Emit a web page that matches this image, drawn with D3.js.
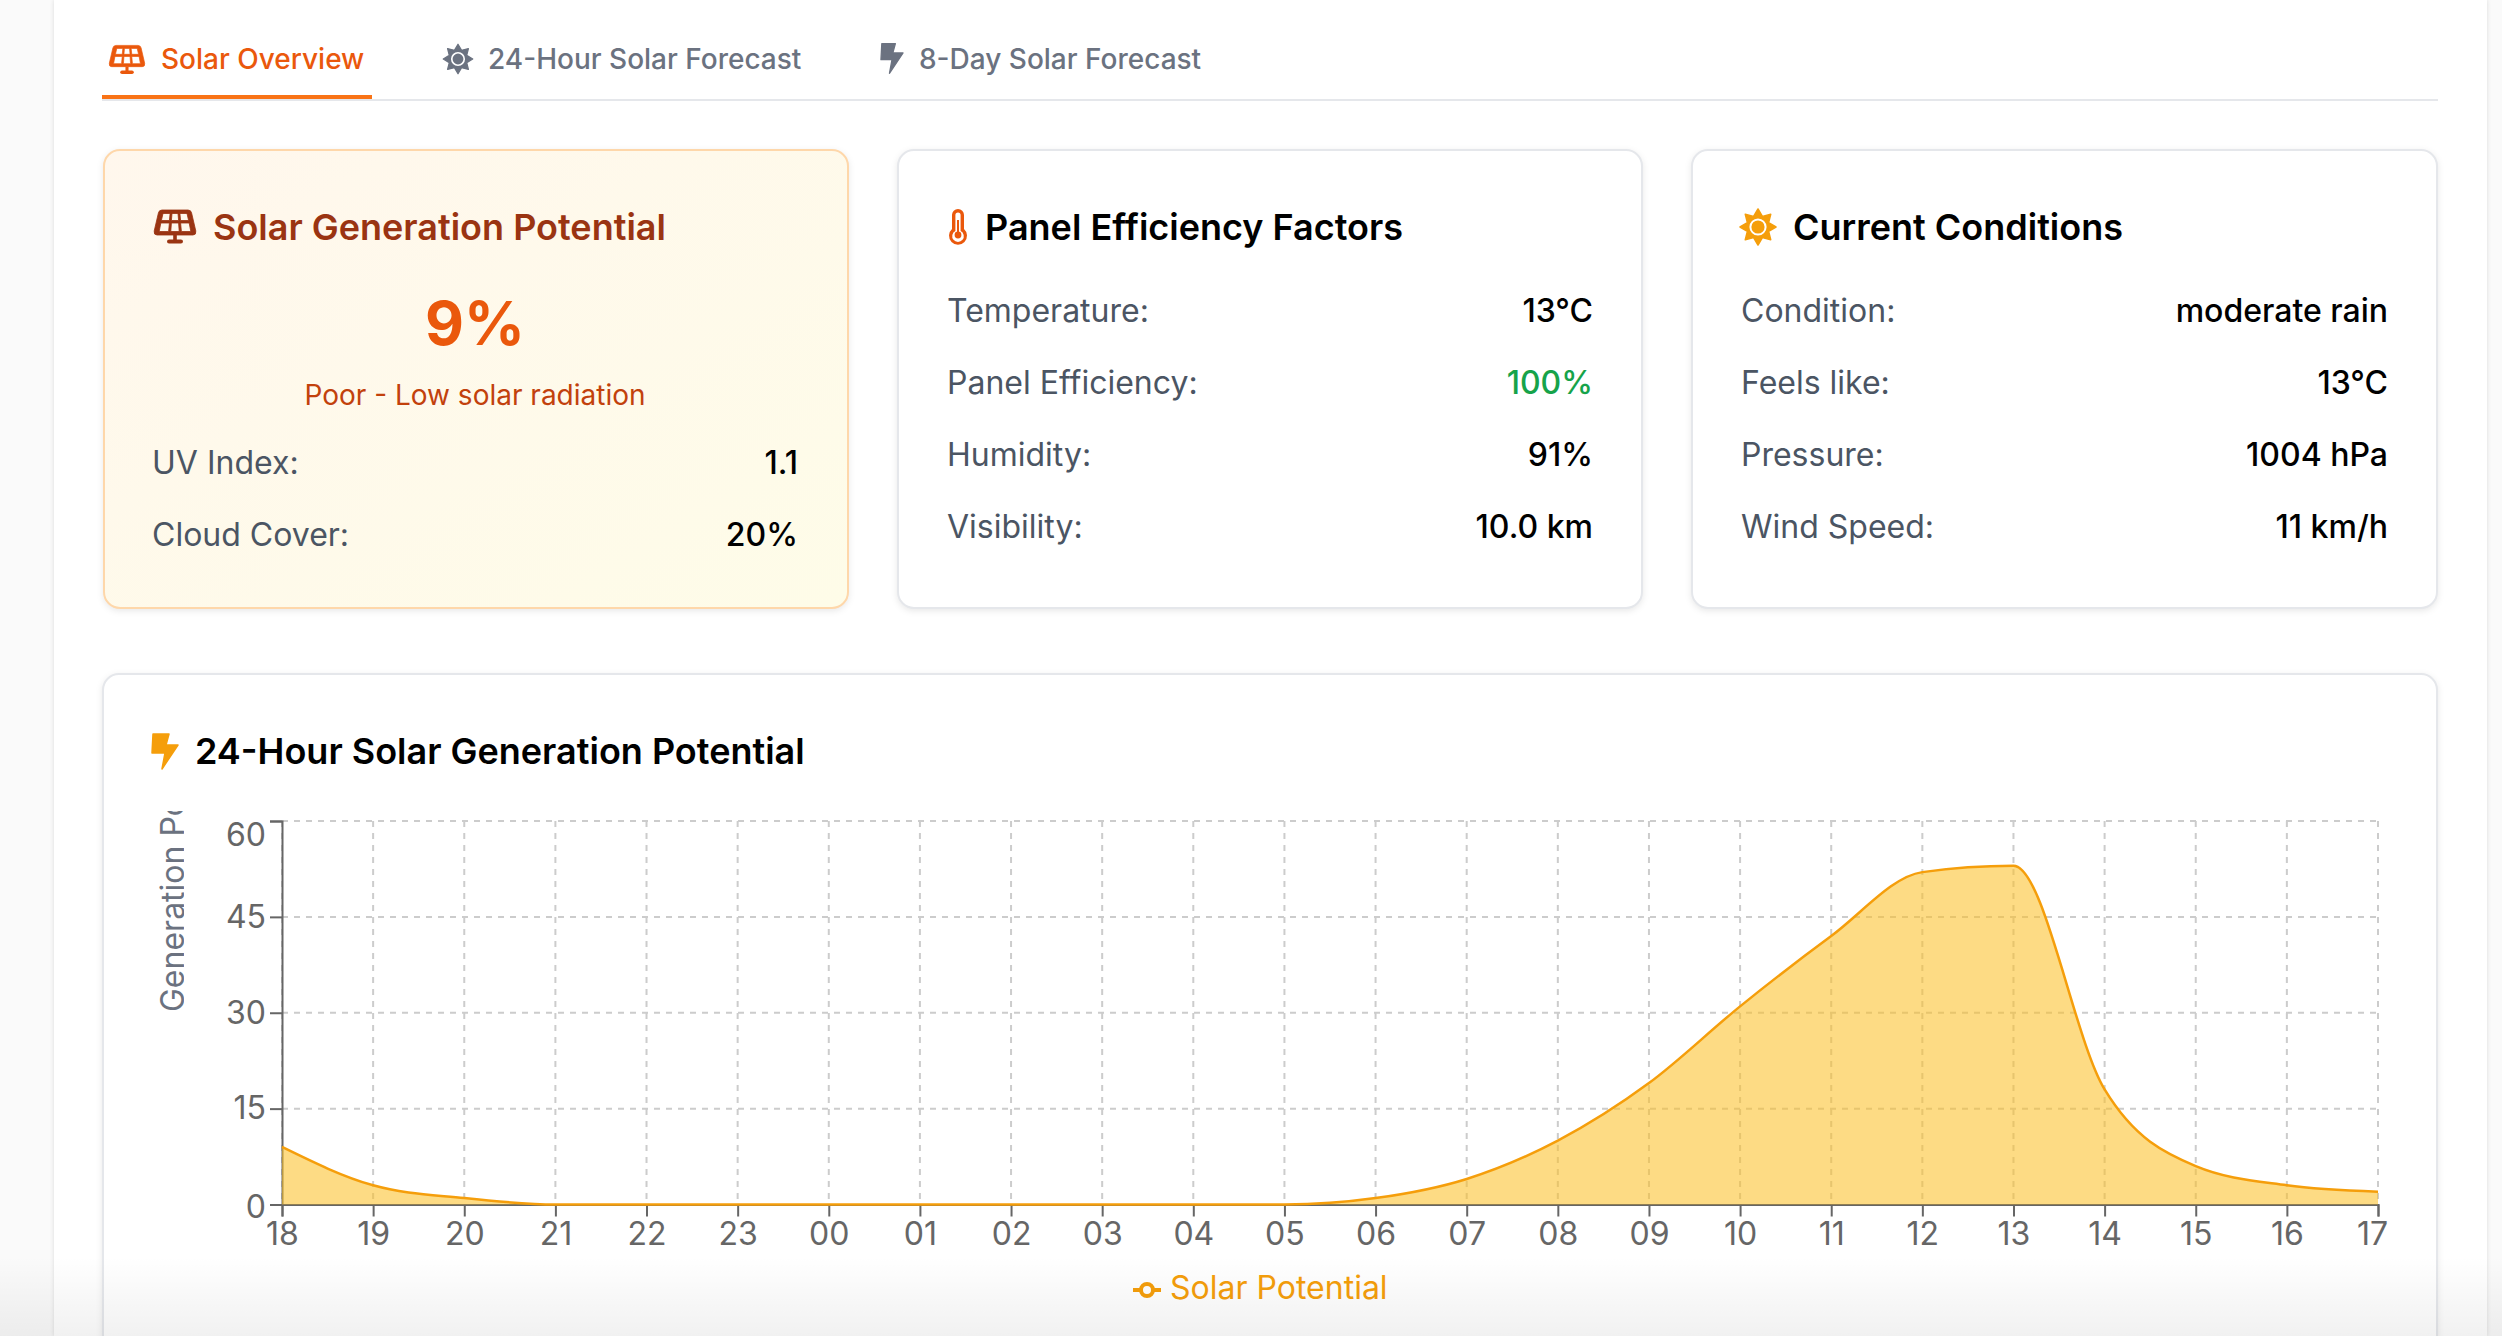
<!DOCTYPE html>
<html>
<head>
<meta charset="utf-8">
<title>Solar Overview</title>
<script src="https://cdn.jsdelivr.net/npm/d3@7"></script>
<style>
	html, body { margin: 0; padding: 0; background: #fafafa; overflow: hidden; }
	svg { display: block; font-family: Inter, "Noto Sans", sans-serif; }
	.card { filter: drop-shadow(0 2px 3px rgba(0,0,0,.09)); }
</style>
</head>
<body>
<svg id="page" width="2502" height="1336"></svg>
<script>
const hours = ["18","19","20","21","22","23","00","01","02","03","04","05","06","07","08","09","10","11","12","13","14","15","16","17"];
const solarPotential = [9,3,1,0,0,0,0,0,0,0,0,0,1,4,10,19,31,42,52,53,18,6,3,2];
const yTicks = [0,15,30,45,60];

const tabLabels = ["Solar Overview","24-Hour Solar Forecast","8-Day Solar Forecast"];
const generationRows = [["UV Index:","1.1"],["Cloud Cover:","20%"]];
const efficiencyRows = [["Temperature:","13°C"],["Panel Efficiency:","100%"],["Humidity:","91%"],["Visibility:","10.0 km"]];
const conditionRows = [["Condition:","moderate rain"],["Feels like:","13°C"],["Pressure:","1004 hPa"],["Wind Speed:","11 km/h"]];

const svg = d3.select("#page"),
			defs = svg.append("defs");

let cardGrad = defs.append("linearGradient").attr("id","warm")
	.attr("x1","0").attr("y1","0").attr("x2","1").attr("y2","1");
cardGrad.append("stop").attr("offset","0").attr("stop-color","#fff7ed");
cardGrad.append("stop").attr("offset","1").attr("stop-color","#fefce8");

let fadeGrad = defs.append("linearGradient").attr("id","fade")
	.attr("x1","0").attr("y1","0").attr("x2","0").attr("y2","1");
fadeGrad.append("stop").attr("offset","0").attr("stop-color","#000").attr("stop-opacity",0);
fadeGrad.append("stop").attr("offset","1").attr("stop-color","#000").attr("stop-opacity",0.055);

defs.append("clipPath").attr("id","ylabel-clip")
	.append("rect").attr("x",150).attr("y",811).attr("width",34).attr("height",260);

// white sheet behind everything
svg.append("rect").attr("width",2502).attr("height",1336).attr("fill","#fafafa");
svg.append("rect").attr("x",54).attr("width",2433).attr("height",1336).attr("fill","#fff")
	.style("filter","drop-shadow(0 0 2px rgba(0,0,0,.12))");

/* icons */
function solarIcon(g, x, y, s, color) {
	let i = g.append("g").attr("transform","translate("+x+","+y+") scale("+s+")").attr("fill",color);
	i.append("path").attr("fill-rule","evenodd").attr("stroke",color).attr("stroke-width",0.8).attr("d",
		"M-13,-16 H13 Q16,-16 16.6,-13 L20.8,5 Q21.4,9 18,9 H-18 Q-21.4,9 -20.8,5 L-16.6,-13 Q-16,-16 -13,-16 Z"+
		"M-12,-12.5 L-13.6,-5.5 H-5.6 L-4.9,-12.5 Z M-3,-12.5 L-3.6,-5.5 H3.6 L3,-12.5 Z M4.9,-12.5 L5.6,-5.5 H13.6 L12,-12.5 Z"+
		"M-14.2,-3 L-15.8,5.5 H-6.4 L-5.6,-3 Z M-3.6,-3 L-4.2,5.5 H4.2 L3.6,-3 Z M5.6,-3 L6.4,5.5 H15.8 L14.2,-3 Z");
	i.append("rect").attr("x",-1.8).attr("y",9).attr("width",3.6).attr("height",7);
	i.append("rect").attr("x",-8).attr("y",13.4).attr("width",16).attr("height",4.2).attr("rx",2.1);
}

function sunIcon(g, x, y, s, color, ring) {
	let i = g.append("g").attr("transform","translate("+x+","+y+") scale("+s+")");
	let star = d3.lineRadial().curve(d3.curveLinearClosed);
	let pts = d3.range(16).map(k => [k*Math.PI/8, k%2 ? 11.5 : 18]);
	i.append("path").attr("d",star(pts)).attr("fill",color).attr("stroke",color).attr("stroke-width",1.5).attr("stroke-linejoin","round");
	i.append("circle").attr("r",7.6).attr("fill",color).attr("stroke",ring).attr("stroke-width",2);
}

function boltIcon(g, x, y, s, color) {
	g.append("path").attr("transform","translate("+x+","+y+") scale("+s+")").attr("fill",color)
		.attr("stroke",color).attr("stroke-width",1.5).attr("stroke-linejoin","round")
		.attr("d","M-12,-17 H4 L1,-6 H13 L-3,18 L0,2 H-13 Z");
}

function thermoIcon(g, x, y, s, color) {
	let i = g.append("g").attr("transform","translate("+x+","+y+") scale("+s+")");
	i.append("path").attr("fill-rule","evenodd").attr("fill",color).attr("d",
		"M-6,-11 A6,6 0 0 1 6,-11 V3 A9,9 0 1 1 -6,3 Z M-2.6,-11 V5 A5.8,5.8 0 1 0 2.6,5 V-11 A2.6,2.6 0 0 0 -2.6,-11 Z");
	i.append("circle").attr("cy",9).attr("r",3.4).attr("fill",color);
	i.append("rect").attr("x",-1).attr("y",-6).attr("width",2).attr("height",14).attr("fill",color);
}

/* tabs */
const tabs = svg.append("g");
tabs.append("rect").attr("x",102).attr("y",99).attr("width",2336).attr("height",2).attr("fill","#e5e7eb");
tabs.append("rect").attr("x",102).attr("y",95).attr("width",270).attr("height",4).attr("fill","#f97316");
const tabX = [161,488,919];
tabs.selectAll("text").data(tabLabels).join("text")
	.attr("x",(d,i) => tabX[i]).attr("y",69)
	.attr("font-size",28).attr("font-weight",500)
	.attr("fill",(d,i) => i == 0 ? "#ea580c" : "#6b7280")
	.text(d => d);
solarIcon(tabs, 127, 59, 0.85, "#ea580c");
sunIcon(tabs, 458, 59, 0.82, "#6b7280", "#fff");
boltIcon(tabs, 892, 58, 0.85, "#6b7280");

/* stat cards */
function drawCard(x, w, warm) {
	let g = svg.append("g");
	g.append("rect").attr("class","card").attr("x",x).attr("y",150).attr("width",w).attr("height",458).attr("rx",16)
		.attr("fill",warm ? "url(#warm)" : "#fff")
		.attr("stroke",warm ? "#fed7aa" : "#e5e7eb").attr("stroke-width",2);
	return g;
}

function drawRows(g, rows, xLeft, xRight, yStart) {
	let row = g.selectAll(".row").data(rows).join("g").attr("class","row")
		.attr("transform",(d,i) => "translate(0,"+(yStart + i*72)+")");
	row.append("text").attr("x",xLeft).attr("font-size",32).attr("fill","#4b5563").text(d => d[0]);
	row.append("text").attr("x",xRight).attr("text-anchor","end").attr("font-size",32).attr("font-weight",500)
		.attr("fill",d => d[0] == "Panel Efficiency:" ? "#16a34a" : "#000").text(d => d[1]);
}

function cardTitle(g, x, label, color) {
	g.append("text").attr("x",x).attr("y",240).attr("font-size",36).attr("font-weight",600).attr("fill",color).text(label);
}

const card1 = drawCard(104, 744, true);
solarIcon(card1, 175, 226, 1, "#9a3412");
cardTitle(card1, 213, "Solar Generation Potential", "#9a3412");
card1.append("text").attr("x",475).attr("y",345).attr("text-anchor","middle").attr("font-size",60).attr("font-weight",700)
	.attr("fill","#ea580c").text("9%");
card1.append("text").attr("x",475).attr("y",405).attr("text-anchor","middle").attr("font-size",28)
	.attr("fill","#c2410c").text("Poor - Low solar radiation");
drawRows(card1, generationRows, 152, 798, 474);

const card2 = drawCard(898, 744, false);
thermoIcon(card2, 958, 226, 1, "#ea580c");
cardTitle(card2, 985, "Panel Efficiency Factors", "#000");
drawRows(card2, efficiencyRows, 947, 1593, 322);

const card3 = drawCard(1692, 745, false);
sunIcon(card3, 1758, 227, 1, "#f59e0b", "#fff");
cardTitle(card3, 1793, "Current Conditions", "#000");
drawRows(card3, conditionRows, 1741, 2388, 322);

/* chart card */
const chartCard = svg.append("g");
chartCard.append("rect").attr("class","card").attr("x",103).attr("y",674).attr("width",2334).attr("height",800).attr("rx",16)
	.attr("fill","#fff").attr("stroke","#e5e7eb").attr("stroke-width",2);
boltIcon(chartCard, 165, 751, 1, "#f59e0b");
chartCard.append("text").attr("x",195).attr("y",764).attr("font-size",36).attr("font-weight",600).attr("fill","#000")
	.text("24-Hour Solar Generation Potential");

const x = d3.scalePoint().domain(hours).range([282,2378]),
			y = d3.scaleLinear().domain([0,60]).range([1204.5,821]);

const grid = chartCard.append("g").attr("fill","none").attr("stroke","#ccc").attr("stroke-width",2).attr("stroke-dasharray","6,6");
grid.selectAll(".gy").data(yTicks.filter(d => d > 0)).join("line").attr("class","gy")
	.attr("x1",282).attr("x2",2378).attr("y1",d => y(d)).attr("y2",d => y(d));
grid.selectAll(".gx").data(hours).join("line").attr("class","gx")
	.attr("x1",d => x(d)).attr("x2",d => x(d)).attr("y1",821).attr("y2",1204.5);

const xAxis = chartCard.append("g").attr("transform","translate(0,1204.5)")
	.call(d3.axisBottom(x).tickSize(12).tickPadding(6));
const yAxis = chartCard.append("g").attr("transform","translate(282,0)")
	.call(d3.axisLeft(y).tickValues(yTicks).tickSize(12).tickPadding(4));
[xAxis, yAxis].forEach(a => {
	a.attr("font-family",null).attr("font-size",32);
	a.selectAll("path,line").attr("stroke","#666").attr("stroke-width",2);
	a.selectAll("text").attr("fill","#666");
});
yAxis.selectAll(".tick text").filter(d => d == 60).attr("dy","0.77em");
yAxis.selectAll(".tick text").filter(d => d == 0).attr("dy","0.4em");
xAxis.selectAll(".tick text").filter(d => d == "17").attr("dx",-6);

const area = d3.area().x((d,i) => x(hours[i])).y0(y(0)).y1(d => y(d)).curve(d3.curveMonotoneX),
			line = d3.line().x((d,i) => x(hours[i])).y(d => y(d)).curve(d3.curveMonotoneX);
chartCard.append("path").datum(solarPotential).attr("d",area).attr("fill","#fbbf24").attr("fill-opacity",0.56);
chartCard.append("path").datum(solarPotential).attr("d",line).attr("fill","none").attr("stroke","#f59e0b").attr("stroke-width",2.5);

// the label is longer than the chart's left margin, so it gets cut off at the top
chartCard.append("g").attr("clip-path","url(#ylabel-clip)")
	.append("text").attr("transform","translate(184,1012) rotate(-90)")
	.attr("font-size",32).attr("fill","#6b7280").text("Generation Potential (%)");

/* legend */
const legend = chartCard.append("g");
legend.append("line").attr("x1",1133).attr("x2",1161).attr("y1",1290).attr("y2",1290).attr("stroke","#f59e0b").attr("stroke-width",4);
legend.append("circle").attr("cx",1147).attr("cy",1290).attr("r",6).attr("fill","#fff").attr("stroke","#f59e0b").attr("stroke-width",4);
legend.append("text").attr("x",1170).attr("y",1299).attr("font-size",32).attr("fill","#f59e0b").text("Solar Potential");

// soft fade across the bottom edge of the screen
svg.append("rect").attr("y",1256).attr("width",2502).attr("height",80).attr("fill","url(#fade)");
</script>
</body>
</html>
